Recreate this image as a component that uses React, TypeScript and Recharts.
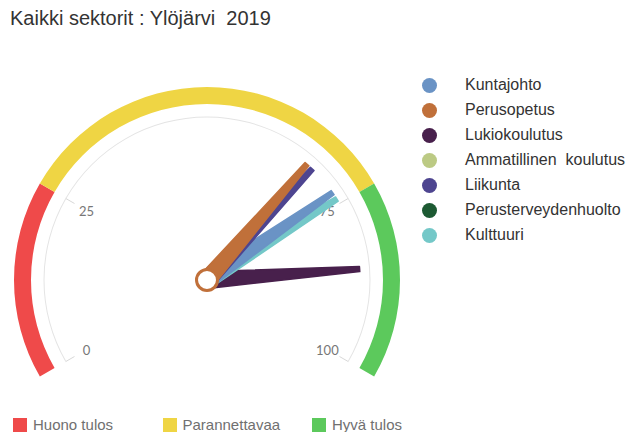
import { Pie, PieChart } from 'recharts';

const title = 'Kaikki sektorit : Ylöjärvi  2019';

// gauge scale
const scaleMin = 0;
const scaleMax = 100;
const tickValues = [0, 25, 75, 100];

// result bands
const bandNames = ['Huono tulos', 'Parannettavaa', 'Hyvä tulos'];
const bandLimits = [0, 25, 75, 100];
const bandColors = ['#ef4a4a', '#efd544', '#5cc95c'];

// sectors (needles)
const sectorNames = [
  'Kuntajohto',
  'Perusopetus',
  'Lukiokoulutus',
  'Ammatillinen  koulutus',
  'Liikunta',
  'Perusterveydenhuolto',
  'Kulttuuri',
];
const sectorValues: (number | null)[] = [73, 67, 85.8, null, 68.1, null, 74.2];
const sectorColors = ['#6a93c5', '#c0703a', '#48204c', '#bcca84', '#4e4590', '#1d5a33', '#74c8c8'];
// paint order, last on top
const drawOrder = [2, 6, 0, 4, 1, 3, 5];

const CX = 202;
const CY = 275;
const START = 210;
const END = -30;
const RAD = Math.PI / 180;

function polar(cx: number, cy: number, r: number, angle: number) {
  return { x: cx + r * Math.cos(-angle * RAD), y: cy + r * Math.sin(-angle * RAD) };
}

const bandData = bandNames.map((name, i) => ({
  name,
  value: bandLimits[i + 1] - bandLimits[i],
  fill: bandColors[i],
}));

const tickData = tickValues.slice(1).map((t, i) => ({ value: t - tickValues[i], from: tickValues[i], to: t }));

function renderTick(props: any) {
  const { cx, cy, startAngle, endAngle, index, payload } = props;
  const from = payload?.from ?? props.from;
  const to = payload?.to ?? props.to;
  const marks = [{ angle: startAngle, label: from }];
  if (index === tickData.length - 1) marks.push({ angle: endAngle, label: to });
  return (
    <g key={`tick-${index}`}>
      {marks.map((m) => {
        const a = polar(cx, cy, 163, m.angle);
        const b = polar(cx, cy, 153, m.angle);
        const t = polar(cx, cy, 139, m.angle);
        return (
          <g key={m.label}>
            <line x1={a.x} y1={a.y} x2={b.x} y2={b.y} stroke="#d8d8d8" strokeWidth={1} />
            <text
              x={t.x}
              y={t.y}
              textAnchor="middle"
              dominantBaseline="central"
              fontSize={13}
              fill="#777"
              fontFamily="Lato, 'Liberation Sans', sans-serif"
            >
              {m.label}
            </text>
          </g>
        );
      })}
    </g>
  );
}

function needleLabel(color: string) {
  return (props: any) => {
    const { cx, cy, endAngle, outerRadius, index } = props;
    if (index !== 0) return <g key={`n-${index}`} />;
    const tip = polar(cx, cy, outerRadius, endAngle);
    const ux = Math.cos(-endAngle * RAD);
    const uy = Math.sin(-endAngle * RAD);
    const px = -uy;
    const py = ux;
    const w0 = 8.5;
    const w1 = 2.5;
    const d = [
      `M${cx + px * w0},${cy + py * w0}`,
      `L${tip.x + px * w1},${tip.y + py * w1}`,
      `L${tip.x - px * w1},${tip.y - py * w1}`,
      `L${cx - px * w0},${cy - py * w0}`,
      'Z',
    ].join(' ');
    return (
      <path key="needle" d={d} fill={color} stroke={color} strokeWidth={1.5} strokeLinejoin="round" />
    );
  };
}

function pivotLabel(props: any) {
  const { cx, cy } = props;
  return <circle key="pivot" cx={cx} cy={cy} r={10.5} fill="#fff" stroke="#c0703a" strokeWidth={3} />;
}

export default function App() {
  const span = scaleMax - scaleMin;
  return (
    <div
      style={{
        position: 'absolute',
        left: 0,
        top: 0,
        width: 632,
        height: 432,
        background: '#fff',
        overflow: 'hidden',
        fontFamily: "'Liberation Sans', Arial, sans-serif",
      }}
    >
      <div style={{ position: 'absolute', left: 10, top: 7, fontSize: 20, color: '#333', whiteSpace: 'pre' }}>
        {title}
      </div>
      <div style={{ position: 'absolute', left: 0, top: 0 }}>
        <PieChart width={632} height={432}>
          <Pie
            data={bandData}
            dataKey="value"
            cx={CX}
            cy={CY}
            startAngle={START}
            endAngle={END}
            innerRadius={176}
            outerRadius={193}
            stroke="none"
            isAnimationActive={false}
          />
          <Pie
            data={tickData}
            dataKey="value"
            cx={CX}
            cy={CY}
            startAngle={START}
            endAngle={END}
            innerRadius={162.5}
            outerRadius={163.5}
            fill="#e4e4e4"
            stroke="none"
            label={renderTick}
            labelLine={false}
            isAnimationActive={false}
          />
          {drawOrder
            .filter((i) => sectorValues[i] !== null)
            .map((i) => {
              const v = sectorValues[i] as number;
              const data = [
                { name: sectorNames[i], value: v - scaleMin },
                { name: 'rest', value: span - (v - scaleMin) },
              ];
              return (
                <Pie
                  key={sectorNames[i]}
                  data={data}
                  dataKey="value"
                  cx={CX}
                  cy={CY}
                  startAngle={START}
                  endAngle={END}
                  innerRadius={0}
                  outerRadius={153}
                  fill="transparent"
                  stroke="none"
                  label={needleLabel(sectorColors[i])}
                  labelLine={false}
                  isAnimationActive={false}
                />
              );
            })}
          <Pie
            data={[{ value: 1 }]}
            dataKey="value"
            cx={CX}
            cy={CY}
            startAngle={0}
            endAngle={360}
            innerRadius={0}
            outerRadius={10}
            fill="transparent"
            stroke="none"
            label={pivotLabel}
            labelLine={false}
            isAnimationActive={false}
          />
        </PieChart>
      </div>
      {sectorNames.map((name, i) => (
        <div
          key={name}
          style={{
            position: 'absolute',
            left: 422,
            top: 74 + i * 25,
            height: 22,
            display: 'flex',
            alignItems: 'center',
            whiteSpace: 'pre',
            fontSize: 16,
            color: '#333',
          }}
        >
          <span
            style={{
              display: 'inline-block',
              width: 15,
              height: 15,
              borderRadius: '50%',
              background: sectorColors[i],
              marginRight: 28,
            }}
          />
          {name}
        </div>
      ))}
      {bandNames.map((name, i) => (
        <div
          key={name}
          style={{
            position: 'absolute',
            left: 13 + i * 149.5,
            top: 416,
            display: 'flex',
            alignItems: 'center',
            fontSize: 15,
            color: '#707070',
            whiteSpace: 'pre',
          }}
        >
          <span style={{ display: 'inline-block', width: 14, height: 14, background: bandColors[i], marginRight: 6 }} />
          {name}
        </div>
      ))}
    </div>
  );
}
